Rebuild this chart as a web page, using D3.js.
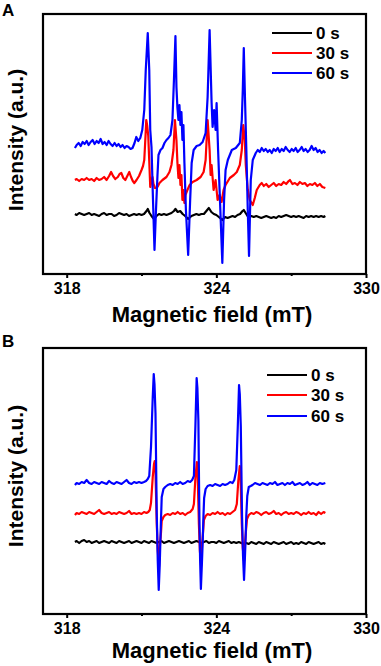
<!DOCTYPE html>
<html lang="en">
<head>
<meta charset="utf-8">
<title>EPR spectra</title>
<script src="https://d3js.org/d3.v7.min.js"></script>
<style>
  body { margin: 0; background: #fff; }
  svg text { font-family: Arial, "Liberation Sans", sans-serif; font-weight: bold; fill: #000; }
</style>
</head>
<body>
<div id="chart"></div>
<script>
// x axis ticks (mT)
var fieldTicks = [318, 324, 330];
var minorTicks = [321, 327];
var legendLabels = ["0 s", "30 s", "60 s"];
var seriesColors = ["#000000", "#ff0000", "#0000ff"];

// panel A, [field (mT), intensity (a.u.)]
var a0s = [[318.33,62],[318.4,61],[318.5,63],[318.6,62],[318.7,61],[318.8,62],[318.9,63],[319.0,61],[319.1,62],[319.2,61],
  [319.3,60],[319.4,62],[319.5,63],[319.6,61],[319.7,62],[319.8,62],[319.9,60],[320.0,61],[320.1,63],[320.2,62],
  [320.3,61],[320.4,62],[320.5,60],[320.6,61],[320.7,62],[320.8,61],[320.9,62],[321.0,61],[321.1,62],[321.2,65],
  [321.25,67],[321.32,63],[321.4,60],[321.5,57],[321.6,60],[321.7,62],[321.8,61],[321.9,62],[322.0,61],[322.1,62],
  [322.2,63],[322.3,65],[322.36,67],[322.45,64],[322.55,65],[322.65,62],[322.75,60],[322.87,57],[323.0,60],[323.1,61],
  [323.2,62],[323.3,61],[323.4,62],[323.5,62],[323.6,65],[323.7,68],[323.8,64],[323.9,62],[324.0,61],[324.1,59],
  [324.24,56],[324.35,59],[324.45,58],[324.55,59],[324.65,60],[324.75,59],[324.85,61],[324.95,62],[325.05,65],[325.1,66],
  [325.2,62],[325.3,58],[325.4,60],[325.5,59],[325.6,60],[325.7,59],[325.8,58],[325.9,59],[326.0,60],[326.1,59],
  [326.2,58],[326.3,59],[326.4,58],[326.5,60],[326.6,59],[326.7,60],[326.8,61],[326.9,60],[327.0,59],[327.1,60],
  [327.2,59],[327.3,60],[327.4,59],[327.5,58],[327.6,60],[327.7,59],[327.8,60],[327.9,59],[328.0,60],[328.1,59],
  [328.2,60],[328.3,59],[328.37,60]];
var a30s = [[318.33,96],[318.4,97],[318.5,95],[318.6,97],[318.7,96],[318.8,98],[318.9,96],[319.0,97],[319.1,95],[319.2,98],
  [319.3,96],[319.4,97],[319.5,99],[319.6,96],[319.7,100],[319.78,104],[319.86,100],[319.95,97],[320.05,99],[320.12,102],
  [320.19,103],[320.27,98],[320.35,96],[320.43,100],[320.51,104],[320.58,99],[320.65,95],[320.71,93],[320.8,96],[320.9,100],
  [321.0,106],[321.06,110],[321.11,116],[321.16,140],[321.19,156],[321.23,150],[321.27,140],[321.31,115],[321.35,89],[321.4,95],
  [321.44,99],[321.48,92],[321.54,88],[321.6,88],[321.66,90],[321.72,93],[321.84,96],[322.0,99],[322.12,104],[322.2,111],
  [322.28,126],[322.34,156],[322.4,136],[322.44,113],[322.48,98],[322.52,111],[322.56,91],[322.6,101],[322.64,76],[322.68,86],
  [322.72,73],[322.76,81],[322.84,86],[322.93,91],[323.05,94],[323.21,96],[323.37,99],[323.49,104],[323.57,116],[323.65,156],
  [323.73,126],[323.77,101],[323.81,111],[323.89,86],[323.97,96],[324.05,76],[324.13,81],[324.21,74],[324.29,86],[324.37,91],
  [324.54,98],[324.7,101],[324.82,104],[324.94,111],[325.02,126],[325.08,151],[325.14,136],[325.18,111],[325.26,86],[325.34,76],
  [325.46,71],[325.54,78],[325.62,86],[325.74,91],[325.82,93],[325.9,90],[326.0,92],[326.1,89],[326.2,91],[326.3,93],
  [326.4,90],[326.5,92],[326.6,91],[326.7,94],[326.8,92],[326.9,95],[326.95,96],[327.05,92],[327.15,93],[327.25,91],
  [327.35,94],[327.45,92],[327.55,93],[327.65,90],[327.75,92],[327.85,91],[327.95,93],[328.05,90],[328.15,92],[328.25,89],
  [328.37,88]];
var a60s = [[318.33,128],[318.4,131],[318.48,133],[318.56,130],[318.64,134],[318.72,132],[318.8,135],[318.88,131],[318.96,134],[319.04,136],
  [319.12,132],[319.2,135],[319.28,133],[319.36,137],[319.44,132],[319.52,134],[319.6,131],[319.68,135],[319.76,132],[319.84,130],
  [319.92,133],[320.0,130],[320.08,132],[320.16,129],[320.24,131],[320.32,128],[320.4,130],[320.48,129],[320.56,127],[320.64,128],
  [320.72,133],[320.79,139],[320.87,135],[320.95,138],[321.03,146],[321.11,166],[321.17,206],[321.25,243],[321.31,206],[321.35,146],
  [321.4,129],[321.46,76],[321.52,26],[321.58,66],[321.64,101],[321.68,121],[321.76,126],[321.84,128],[321.92,133],[322.0,136],
  [322.08,138],[322.16,141],[322.24,156],[322.3,196],[322.36,240],[322.4,189],[322.44,168],[322.48,156],[322.52,171],[322.56,151],
  [322.6,164],[322.64,136],[322.68,151],[322.72,113],[322.78,66],[322.87,21],[322.95,76],[323.01,113],[323.09,126],[323.21,130],
  [323.33,131],[323.45,134],[323.57,143],[323.65,179],[323.73,246],[323.81,173],[323.85,149],[323.91,166],[323.97,146],[324.01,173],
  [324.07,126],[324.13,86],[324.24,13],[324.31,76],[324.37,106],[324.46,116],[324.62,126],[324.78,128],[324.94,133],[325.02,156],
  [325.06,186],[325.1,228],[325.15,176],[325.2,129],[325.26,66],[325.31,20],[325.38,96],[325.46,116],[325.58,123],[325.66,126],
  [325.74,124],[325.82,128],[325.9,125],[325.98,127],[326.06,124],[326.14,126],[326.22,123],[326.3,127],[326.38,125],[326.46,128],
  [326.54,124],[326.62,127],[326.7,125],[326.78,129],[326.86,126],[326.94,124],[327.02,127],[327.1,125],[327.18,128],[327.26,124],
  [327.34,126],[327.42,129],[327.5,125],[327.58,127],[327.66,124],[327.74,126],[327.82,130],[327.9,126],[327.98,128],[328.06,124],
  [328.14,126],[328.22,123],[328.3,125],[328.37,123]];

// panel B, [field (mT), intensity (a.u.)]
var b0s = [[318.33,74],[318.4,75],[318.5,73],[318.6,75],[318.7,76],[318.8,74],[318.9,75],[319.0,73],[319.1,74],[319.2,75],
  [319.3,73],[319.4,74],[319.5,75],[319.6,74],[319.7,73],[319.8,75],[319.9,74],[320.0,73],[320.1,75],[320.2,74],
  [320.3,73],[320.4,74],[320.5,75],[320.6,73],[320.7,74],[320.8,75],[320.9,74],[321.0,73],[321.1,75],[321.2,74],
  [321.3,73],[321.4,75],[321.5,74],[321.6,73],[321.7,74],[321.8,75],[321.9,73],[322.0,74],[322.1,75],[322.2,74],
  [322.3,73],[322.4,74],[322.5,75],[322.6,74],[322.7,73],[322.8,74],[322.9,75],[323.0,73],[323.1,74],[323.2,75],
  [323.3,74],[323.4,73],[323.5,74],[323.6,75],[323.7,73],[323.8,74],[323.9,74],[324.0,73],[324.1,75],[324.2,74],
  [324.3,73],[324.4,74],[324.5,75],[324.6,73],[324.7,74],[324.8,73],[324.9,74],[325.0,73],[325.1,72],[325.2,73],
  [325.3,72],[325.4,74],[325.5,73],[325.6,72],[325.7,74],[325.8,73],[325.9,72],[326.0,74],[326.1,73],[326.2,72],
  [326.3,74],[326.4,73],[326.5,72],[326.6,73],[326.7,74],[326.8,72],[326.9,73],[327.0,74],[327.1,72],[327.2,73],
  [327.3,72],[327.4,74],[327.5,73],[327.6,72],[327.7,74],[327.8,73],[327.9,72],[328.0,73],[328.1,74],[328.2,72],
  [328.3,73],[328.37,72]];
var b30s = [[318.33,101],[318.4,103],[318.5,102],[318.6,104],[318.7,103],[318.8,102],[318.9,104],[319.0,103],[319.1,102],[319.2,104],
  [319.3,106],[319.4,103],[319.5,102],[319.6,103],[319.7,104],[319.8,102],[319.9,103],[320.0,102],[320.1,104],[320.2,103],
  [320.3,102],[320.4,103],[320.5,105],[320.6,102],[320.7,103],[320.8,102],[320.9,103],[321.0,102],[321.1,104],[321.2,103],
  [321.27,104],[321.33,106],[321.38,113],[321.45,139],[321.5,152],[321.53,155],[321.56,143],[321.61,93],[321.65,66],[321.7,49],
  [321.74,71],[321.78,83],[321.81,95],[321.88,99],[321.95,101],[322.05,102],[322.15,101],[322.25,103],[322.35,102],[322.45,104],
  [322.55,102],[322.65,103],[322.75,101],[322.85,103],[322.95,104],[323.05,107],[323.1,112],[323.16,138],[323.22,154],[323.25,142],
  [323.3,92],[323.34,65],[323.39,50],[323.43,72],[323.47,85],[323.5,96],[323.57,100],[323.65,102],[323.75,101],[323.85,103],
  [323.95,102],[324.05,104],[324.15,102],[324.25,103],[324.35,101],[324.45,103],[324.55,102],[324.65,104],[324.75,106],[324.82,112],
  [324.88,135],[324.94,150],[324.97,140],[325.02,92],[325.06,68],[325.11,55],[325.15,73],[325.19,86],[325.23,97],[325.3,101],
  [325.4,103],[325.5,102],[325.6,104],[325.7,103],[325.8,101],[325.9,103],[326.0,104],[326.1,102],[326.2,103],[326.3,105],
  [326.4,102],[326.5,103],[326.6,101],[326.7,103],[326.8,104],[326.9,102],[327.0,103],[327.1,102],[327.2,104],[327.3,103],
  [327.4,101],[327.5,103],[327.6,102],[327.7,104],[327.8,102],[327.9,103],[328.0,101],[328.1,104],[328.2,102],[328.3,104],
  [328.37,103]];
var b60s = [[318.33,131],[318.4,133],[318.5,132],[318.6,134],[318.7,133],[318.8,136],[318.9,133],[319.0,132],[319.1,134],[319.2,133],
  [319.3,132],[319.4,134],[319.5,133],[319.6,132],[319.7,135],[319.8,133],[319.9,132],[320.0,134],[320.1,133],[320.2,132],
  [320.3,134],[320.4,136],[320.5,133],[320.6,132],[320.7,134],[320.8,133],[320.9,134],[321.0,133],[321.1,134],[321.18,135],
  [321.25,137],[321.31,140],[321.38,169],[321.45,219],[321.49,242],[321.52,232],[321.56,203],[321.61,103],[321.65,56],[321.69,26],
  [321.73,51],[321.75,69],[321.78,96],[321.81,119],[321.88,127],[321.95,129],[322.05,131],[322.15,132],[322.25,131],[322.35,133],
  [322.45,132],[322.55,134],[322.65,132],[322.75,133],[322.85,135],[322.95,134],[323.03,136],[323.1,140],[323.16,190],[323.21,238],
  [323.24,228],[323.28,195],[323.32,100],[323.35,55],[323.38,27],[323.42,52],[323.45,72],[323.48,98],[323.51,118],[323.57,127],
  [323.65,130],[323.75,131],[323.85,130],[323.95,132],[324.05,131],[324.15,130],[324.25,132],[324.35,131],[324.45,132],[324.55,134],
  [324.65,133],[324.72,136],[324.8,146],[324.86,190],[324.91,231],[324.94,222],[324.98,190],[325.03,100],[325.07,60],[325.11,36],
  [325.14,55],[325.17,75],[325.2,100],[325.24,120],[325.3,129],[325.38,130],[325.45,131],[325.55,133],[325.65,132],[325.75,131],
  [325.85,133],[325.95,132],[326.05,131],[326.15,133],[326.25,132],[326.35,134],[326.45,131],[326.55,132],[326.65,133],[326.75,131],
  [326.85,133],[326.95,132],[327.05,134],[327.15,131],[327.25,132],[327.35,133],[327.45,131],[327.55,132],[327.65,134],[327.75,131],
  [327.85,133],[327.95,132],[328.05,131],[328.15,133],[328.25,132],[328.37,133]];

var svg = d3.select("#chart").append("svg")
    .attr("width", 381)
    .attr("height", 666);

// x scale is the same for both panels
var x = d3.scaleLinear().domain([317.05, 330]).range([43, 366]);

function drawPanel(p) {
  var g = svg.append("g");
  var y = d3.scaleLinear().domain(p.yDomain).range([p.bottom, p.top]);

  var line = d3.line()
    .x(function(d) { return x(d[0]); })
    .y(function(d) { return y(d[1]); });

  p.series.forEach(function(s, i) {
    g.append("path")
      .datum(s)
      .attr("fill", "none")
      .attr("stroke", seriesColors[i])
      .attr("stroke-width", 2.2)
      .attr("stroke-linejoin", "round")
      .attr("d", line);
  });

  // frame
  g.append("rect")
    .attr("x", 43).attr("y", p.top)
    .attr("width", 323).attr("height", p.bottom - p.top)
    .attr("fill", "none").attr("stroke", "#000").attr("stroke-width", 2.2);

  // x axis
  var ax = g.append("g")
    .attr("transform", "translate(0," + p.bottom + ")")
    .call(d3.axisBottom(x).tickValues(fieldTicks).tickSize(4).tickPadding(5).tickFormat(d3.format("d")));
  ax.select(".domain").remove();
  ax.selectAll("line").attr("stroke-width", 2);
  ax.selectAll("text").style("font-size", "16px");

  var mx = g.append("g")
    .attr("transform", "translate(0," + p.bottom + ")")
    .call(d3.axisBottom(x).tickValues(minorTicks).tickSize(2).tickFormat(""));
  mx.select(".domain").remove();
  mx.selectAll("line").attr("stroke-width", 2);

  g.append("text")
    .attr("x", 212).attr("y", p.bottom + p.titleGap)
    .attr("text-anchor", "middle")
    .style("font-size", "22px")
    .text("Magnetic field (mT)");

  g.append("text")
    .attr("transform", "translate(23," + p.yTitleMid + ") rotate(-90)")
    .attr("text-anchor", "middle")
    .style("font-size", "21px")
    .text("Intensity (a.u.)");

  g.append("text")
    .attr("x", 2).attr("y", p.labelY)
    .style("font-size", "17px")
    .text(p.label);

  // legend
  legendLabels.forEach(function(lab, i) {
    var ly = p.legendY[i];
    g.append("line")
      .attr("x1", p.legendX).attr("x2", p.legendX + 40)
      .attr("y1", ly).attr("y2", ly)
      .attr("stroke", seriesColors[i]).attr("stroke-width", 2.2);
    g.append("text")
      .attr("x", p.legendX + 44).attr("y", ly)
      .attr("dy", "0.35em")
      .style("font-size", "17px")
      .text(lab);
  });
}

drawPanel({
  label: "A", labelY: 16,
  top: 14, bottom: 274, yDomain: [2, 262],
  series: [a0s, a30s, a60s],
  titleGap: 48, yTitleMid: 140,
  legendX: 272, legendY: [33, 53, 73]
});

drawPanel({
  label: "B", labelY: 347,
  top: 348, bottom: 614, yDomain: [2, 268],
  series: [b0s, b30s, b60s],
  titleGap: 44, yTitleMid: 476,
  legendX: 267, legendY: [375, 395, 416]
});
</script>
</body>
</html>
